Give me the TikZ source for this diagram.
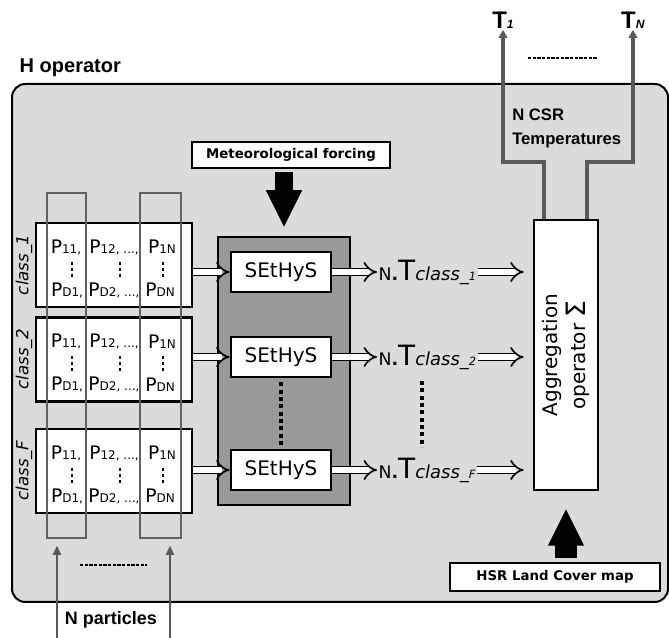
\documentclass[tikz,border=0pt]{standalone}
\usepackage{fontspec}
\setmainfont{Liberation Sans}
\newfontfamily\djv{DejaVu Sans}
\usepackage{tikz}
\usetikzlibrary{positioning, arrows.meta}

\newcommand\psub[1]{{\fontsize{9}{9}\selectfont #1}}

\begin{document}
\begin{tikzpicture}[x=0.75pt, y=-0.75pt,
  classbox/.style={draw, line width=2.2pt, fill=white, minimum width=117pt, minimum height=63pt, inner sep=0pt},
  colbox/.style={draw=black!62, line width=1.4pt, minimum height=258.75pt, inner sep=0pt},
  sethys/.style={draw, line width=2.2pt, fill=white, minimum width=75pt, minimum height=30pt, inner sep=0pt, font=\djv\fontsize{15}{16}\selectfont},
  lblbox/.style={draw, line width=2pt, fill=white, inner sep=0pt, font=\djv\bfseries\fontsize{10}{11}\selectfont},
  ptext/.style={inner sep=0pt, font=\djv\fontsize{14}{15}\selectfont},
  classlbl/.style={rotate=90, inner sep=0pt, font=\djv\itshape\fontsize{12.5}{13}\selectfont},
  ntlbl/.style={anchor=west, inner sep=1pt, font=\djv\fontsize{13}{14}\selectfont},
  holarrow/.style={double, double distance=4pt, line width=1.2pt, -{Implies}},
  bigarrow/.style={line width=13.5pt, -{Triangle[length=28pt, width=25pt]}},
  garrow/.style={draw=black!65, line width=1.8pt, -{Triangle[length=7pt, width=6pt]}},
  tarrow/.style={draw=black!65, line width=2.4pt, -{Triangle[length=6pt, width=6.5pt]}},
  pdots/.style={line width=2pt, dash pattern=on 2pt off 2.5pt},
  sdots/.style={line width=2.5pt, dash pattern=on 3pt off 2.5pt},
  hdots/.style={line width=2pt, dash pattern=on 2.5pt off 1pt}
]
\useasboundingbox (0,0) rectangle (669,638);

% ===== H operator frame =====
\draw[line width=1.5pt, fill=black!14, rounded corners=10pt] (12,84) rectangle (668,602);
\node[anchor=west, font=\bfseries\fontsize{15}{18}\selectfont] (hop) at (15,68) {H operator};

% ===== class boxes with particles =====
\foreach \cy/\lbl [count=\i] in {265/1, 359.5/2, 471/F} {
  \node[classbox] (c\i) at (114,\cy) {};
  \node[classlbl] (cl\i) at (24,\cy) {class\_\lbl};
  \node[ptext] (pa\i) at (66,\cy-18) {P\psub{11,}};
  \node[ptext] (pb\i) at (114,\cy-18) {P\psub{12, ...,}};
  \node[ptext] (pc\i) at (162,\cy-18) {P\psub{1N}};
  \node[ptext] (pd\i) at (67,\cy+25) {P\psub{D1,}};
  \node[ptext] (pe\i) at (114,\cy+25) {P\psub{D2, ...,}};
  \node[ptext] (pf\i) at (160,\cy+25) {P\psub{DN}};
  \foreach \dx in {72,120,163}
    \draw[pdots] (\dx,\cy-3) -- (\dx,\cy+14);
}

% particle columns
\node[colbox, minimum width=29.25pt] (col1) at (66.5,365.5) {};
\node[colbox, minimum width=30.75pt] (col2) at (160.5,365.5) {};

% N particles
\coordinate (pin1) at (57,640);
\coordinate (pin2) at (170,640);
\draw[garrow, shorten >=5pt] (pin1) -- (pin1 |- col1.south);
\draw[garrow, shorten >=5pt] (pin2) -- (pin2 |- col2.south);
\draw[hdots] (80,565) -- (147,565);
\node[font=\bfseries\fontsize{13.5}{16}\selectfont] (npart) at (111,620) {N particles};

% ===== SEtHyS =====
\node[draw, line width=2.2pt, fill=black!40, minimum width=99pt, minimum height=201pt, inner sep=0pt] (cont) at (284,371) {};
\node[lblbox, minimum width=148.5pt, minimum height=19.5pt] (met) at (291,155) {Meteorological forcing};
\draw[bigarrow, shorten <=2pt, shorten >=6pt] (cont.north |- met.south) -- (cont.north);

% ===== Aggregation =====
\node[draw, line width=1.5pt, fill=white, minimum width=48pt, minimum height=202.5pt] (agg) at (566,355) {};
\node[rotate=90, align=center, font=\djv\fontsize{15}{21}\selectfont] (aggtxt) at (agg.center) {Aggregation\\operator {\fontsize{20}{21}\selectfont Σ}};

\foreach \sy/\lbl [count=\i] in {272/1, 357/2, 470/F} {
  \node[sethys] (s\i) at (281,\sy) {SEtHyS};
  \node[ntlbl] (nt\i) at (377,\sy) {N\textbf{.}{\fontsize{21}{22}\selectfont T}{\itshape\fontsize{13.5}{14}\selectfont class\_{\fontsize{8.5}{9}\selectfont \lbl}}};
  \draw[holarrow] (s\i.west -| c\i.east) -- (s\i.west);
  \draw[holarrow] (s\i.east) -- (s\i.east -| nt\i.west);
  \draw[holarrow, shorten >=7pt] (nt\i.east) -- (nt\i.east -| agg.west);
}
\draw[sdots, shorten <=3pt, shorten >=3pt] (s2.south) -- (s3.north);
\draw[sdots] (422,381) -- (422,447);

\node[lblbox, minimum width=157.5pt, minimum height=21pt] (hsr) at (555,577) {HSR Land Cover map};
\draw[bigarrow, line width=16pt, shorten <=3pt, shorten >=13pt] (agg.south |- hsr.north) -- (agg.south);

% ===== outputs =====
\node[font=\bfseries\fontsize{18}{20}\selectfont, inner sep=1pt] (t1) at (503,20) {T\textit{\fontsize{9}{9}\selectfont 1}};
\node[font=\bfseries\fontsize{18}{20}\selectfont, inner sep=1pt] (tn) at (633,20) {T\textit{\fontsize{9}{9}\selectfont N}};
\draw[tarrow] ([xshift=-16.5pt]agg.north) -- ++(0,-57) -| (t1.south);
\draw[tarrow] ([xshift=15.75pt]agg.north) -- ++(0,-57) -| (tn.south);
\draw[hdots] (528,58) -- (597,58);
\node[anchor=west, align=left, font=\bfseries\fontsize{12.5}{18}\selectfont, inner sep=0pt] (ncsr) at (512,128) {N CSR\\Temperatures};

\end{tikzpicture}
\end{document}
